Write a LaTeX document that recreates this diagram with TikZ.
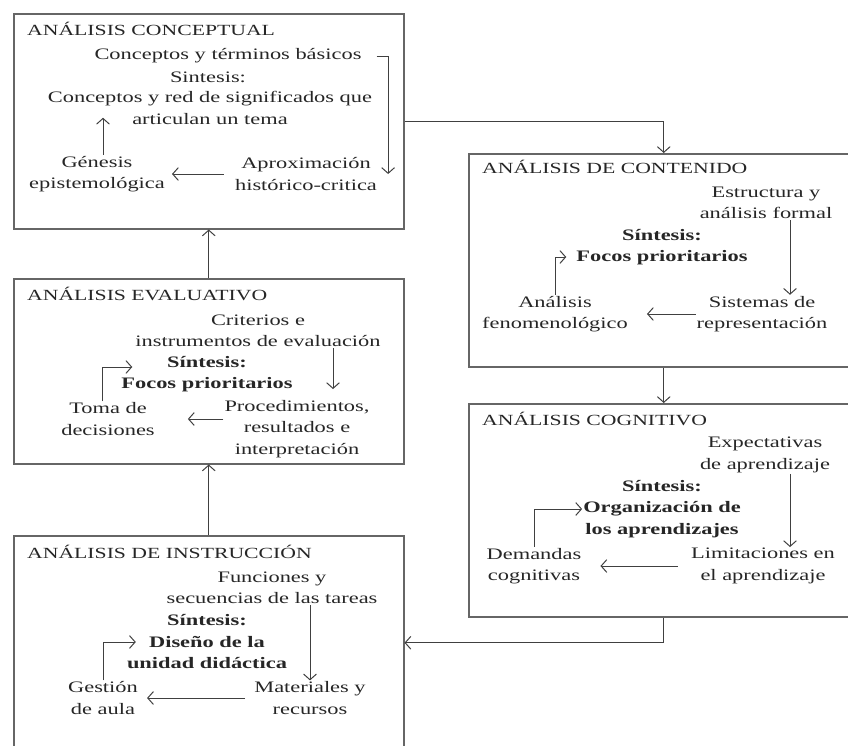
\documentclass[tikz,border=0pt]{standalone}
\usepackage{fontspec}
\setmainfont{Liberation Serif}[FakeStretch=1.4]
\usetikzlibrary{arrows.meta, positioning, calc}

\begin{document}
\begin{tikzpicture}[
    x=1pt, y=-1pt,
    box/.style={draw=black!60, line width=1.5pt, anchor=north west, minimum width=390pt, inner sep=0pt},
    title/.style={anchor=base west, inner sep=0pt, text=black!85, font=\fontsize{15.5}{20}\selectfont},
    txt/.style={align=center, inner sep=1pt, text=black!85, font=\fontsize{16}{21.5}\selectfont},
    syn/.style={txt, font=\fontsize{16}{21.5}\selectfont\bfseries},
    arrow/.style={-{Straight Barb[length=2mm, width=4.5mm]}, line width=1pt, black!75}
  ]
  \useasboundingbox (0,0) rectangle (848,745);
  \clip (0,0) rectangle (848,745);

  % the five blocks
  \node[box, minimum height=215pt] (concept) at (13,13) {};
  \node[box, minimum height=213pt] (content) at (468,153) {};
  \node[box, minimum height=213pt] (cognitive) at (468,403) {};
  \node[box, minimum height=185pt] (evaluative) at (13,278) {};
  \node[box, minimum height=214pt] (instruction) at (13,535) {};

  % conceptual
  \node[title] (conTitle) at (27,35) {ANÁLISIS CONCEPTUAL};
  \node[txt] (conBasic) at (228,56) {Conceptos y términos básicos};
  \node[txt] (conSin) at (208,77) {Sintesis:};
  \node[txt] (conSyn) at (210,108) {Conceptos y red de significados que\\articulan un tema};
  \node[txt] (conGen) at (97,174) {Génesis\\epistemológica};
  \node[txt] (conHist) at (306,174) {Aproximación\\histórico-critica};
  \draw[arrow, shorten <=14pt] (conBasic.east) -| ([xshift=10pt]conHist.east);
  \draw[arrow, shorten <=10pt, shorten >=6pt] (conHist.west) -- (conGen.east);
  \draw[arrow] ([xshift=6pt]conGen.north) -- ++(0,-37);

  % contenido
  \node[title] (cntTitle) at (482,173) {ANÁLISIS DE CONTENIDO};
  \node[txt] (cntStruct) at (766,203) {Estructura y\\análisis formal};
  \node[syn] (cntSyn) at (662,247) {Síntesis:\\Focos prioritarios};
  \node[txt] (cntPhen) at (555,314) {Análisis\\fenomenológico};
  \node[txt] (cntRep) at (762,314) {Sistemas de\\representación};
  \draw[arrow] ([xshift=24pt]cntStruct.south) -- ([xshift=28pt]cntRep.north);
  \draw[arrow, shorten >=18pt] (cntRep.west) -- (cntPhen.east);
  \draw[arrow, shorten >=9pt] (cntPhen.north) |- ([yshift=-10pt]cntSyn.west);

  % cognitivo
  \node[title] (cogTitle) at (482,425) {ANÁLISIS COGNITIVO};
  \node[txt] (cogExp) at (765,455) {Expectativas\\de aprendizaje};
  \node[syn] (cogSyn) at (662,509) {Síntesis:\\Organización de\\los aprendizajes};
  \node[txt] (cogDem) at (534,566) {Demandas\\cognitivas};
  \node[txt] (cogLim) at (763,566) {Limitaciones en\\el aprendizaje};
  \draw[arrow] ([xshift=25pt]cogExp.south) -- ([xshift=27pt]cogLim.north);
  \draw[arrow, shorten <=12pt, shorten >=18pt] (cogLim.west) -- (cogDem.east);
  \draw[arrow] (cogDem.north) |- (cogSyn.west);

  % evaluativo
  \node[title] (evaTitle) at (27,300) {ANÁLISIS EVALUATIVO};
  \node[txt] (evaCrit) at (258,331) {Criterios e\\instrumentos de evaluación};
  \node[syn] (evaSyn) at (207,374) {Síntesis:\\Focos prioritarios};
  \node[txt] (evaDec) at (108,419) {Toma de\\decisiones};
  \node[txt] (evaProc) at (297,429) {Procedimientos,\\resultados e\\interpretación};
  \draw[arrow, shorten >=10pt] ([xshift=75pt]evaCrit.south) -- ([xshift=36pt]evaProc.north);
  \draw[arrow, shorten >=32pt] (evaProc.west |- evaDec.east) -- (evaDec.east);
  \draw[arrow] ([xshift=-6pt]evaDec.north) |- ([xshift=12pt, yshift=7pt]evaSyn.west);

  % instruccion
  \node[title] (insTitle) at (27,558) {ANÁLISIS DE INSTRUCCIÓN};
  \node[txt] (insFun) at (272,588) {Funciones y\\secuencias de las tareas};
  \node[syn] (insSyn) at (207,642) {Síntesis:\\Diseño de la\\unidad didáctica};
  \node[txt] (insGest) at (103,698) {Gestión\\de aula};
  \node[txt] (insMat) at (310,698) {Materiales y\\recursos};
  \draw[arrow] (insFun.south -| insMat.north) -- (insMat.north);
  \draw[arrow, shorten <=8pt, shorten >=8pt] (insMat.west) -- (insGest.east);
  \draw[arrow] (insGest.north) |- ([xshift=10pt]insSyn.west);

  % links between blocks
  \draw[arrow] (concept.east) -| (content.north);
  \draw[arrow] (content.south) -- (cognitive.north);
  \draw[arrow] (cognitive.south) |- (instruction.east);
  \draw[arrow] (instruction.north) -- (evaluative.south);
  \draw[arrow] (evaluative.north) -- (concept.south);
\end{tikzpicture}
\end{document}
